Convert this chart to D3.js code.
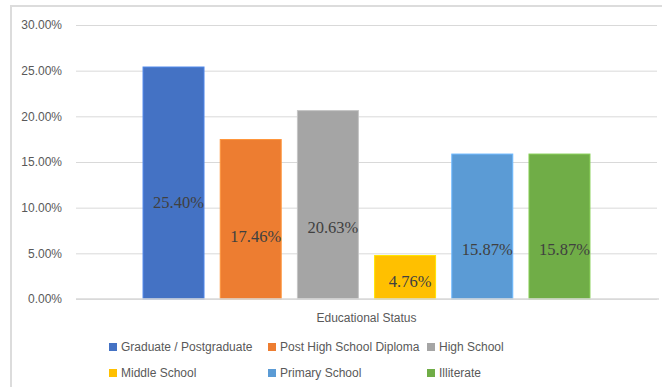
<!DOCTYPE html>
<html>
<head>
<meta charset="utf-8">
<script src="https://cdn.jsdelivr.net/npm/d3@7"></script>
<style>
  html, body { margin: 0; padding: 0; background: #fff; }
  svg { display: block; }
</style>
</head>
<body>
<svg id="chart" width="662" height="387"></svg>
<script>
// Share of respondents by educational status (percent)
const categories = [
  "Graduate / Postgraduate",
  "Post High School Diploma",
  "High School",
  "Middle School",
  "Primary School",
  "Illiterate"
];
const shares = [25.40, 17.46, 20.63, 4.76, 15.87, 15.87];
const colors = ["#4472C4", "#ED7D31", "#A5A5A5", "#FFC000", "#5B9BD5", "#70AD47"];
const yTicks = [0, 5, 10, 15, 20, 25, 30];
const groupName = "Educational Status";

const svg = d3.select("#chart");
const W = 662, H = 387;
const plot = { left: 76, right: 657, top: 25, bottom: 299 };

// Chart area frame (runs off the right and bottom edges)
svg.append("rect")
  .attr("x", 11).attr("y", 6)
  .attr("width", W).attr("height", H)
  .attr("fill", "#fff")
  .attr("stroke", "#dcdcdc")
  .attr("stroke-width", 2);

const y = d3.scaleLinear().domain([0, 30]).range([plot.bottom, plot.top]);

// One category holding six series, clustered in the middle of the plot
const x0 = d3.scaleBand().domain([groupName])
  .range([plot.left, plot.right]).paddingInner(0).paddingOuter(0.15);
const x1 = d3.scaleBand().domain(categories)
  .range([0, x0.bandwidth()]).paddingInner(0.21).paddingOuter(0);

// Gridlines and value axis
const yAxis = d3.axisLeft(y)
  .tickValues(yTicks)
  .tickSize(-(plot.right - plot.left))
  .tickPadding(14)
  .tickFormat(d => d.toFixed(2) + "%");

const gy = svg.append("g")
  .attr("transform", `translate(${plot.left},0)`)
  .call(yAxis);
gy.select(".domain").remove();
gy.selectAll(".tick line").attr("stroke", "#d9d9d9").attr("stroke-width", 1);
gy.selectAll(".tick text")
  .attr("fill", "#595959")
  .style("font-family", "'Liberation Sans', Arial, sans-serif")
  .style("font-size", "12px");

// Bars
const g = svg.append("g").attr("transform", `translate(${x0(groupName)},0)`);
g.selectAll("rect.bar")
  .data(categories)
  .join("rect")
  .attr("class", "bar")
  .attr("x", d => x1(d))
  .attr("y", (d, i) => y(shares[i]))
  .attr("width", x1.bandwidth())
  .attr("height", (d, i) => y(0) - y(shares[i]))
  .attr("fill", (d, i) => colors[i])
  .attr("stroke", (d, i) => d3.color(colors[i]).brighter(0.5))
  .attr("stroke-width", 1);

// Baseline
svg.append("line")
  .attr("x1", plot.left).attr("x2", plot.right + 2)
  .attr("y1", y(0)).attr("y2", y(0))
  .attr("stroke", "#d9d9d9").attr("stroke-width", 1.5);

// Value labels, set inside each bar (vertical placement in axis units)
const labelLevel = [10.6, 6.9, 7.9, 1.9, 5.4, 5.4];
g.selectAll("text.val")
  .data(categories)
  .join("text")
  .attr("class", "val")
  .attr("x", d => x1(d) + x1.bandwidth() / 2 + 5)
  .attr("y", (d, i) => y(labelLevel[i]))
  .attr("dy", "0.35em")
  .attr("text-anchor", "middle")
  .attr("fill", "#404040")
  .style("font-family", "'Liberation Serif', 'Times New Roman', serif")
  .style("font-size", "16.5px")
  .text((d, i) => shares[i].toFixed(2) + "%");

// Category axis title
svg.append("text")
  .attr("x", x0(groupName) + x0.bandwidth() / 2)
  .attr("y", 322)
  .attr("text-anchor", "middle")
  .attr("fill", "#595959")
  .style("font-family", "'Liberation Sans', Arial, sans-serif")
  .style("font-size", "12px")
  .text(groupName);

// Legend: three columns, two rows
const legCols = [109, 268, 427];
const legRows = [347, 373];
const leg = svg.append("g").selectAll("g")
  .data(categories)
  .join("g")
  .attr("transform", (d, i) => `translate(${legCols[i % 3]},${legRows[Math.floor(i / 3)]})`);
leg.append("rect")
  .attr("x", 0).attr("y", -4)
  .attr("width", 8).attr("height", 8)
  .attr("fill", (d, i) => colors[i]);
leg.append("text")
  .attr("x", 12).attr("y", 0)
  .attr("dy", "0.35em")
  .attr("fill", "#595959")
  .style("font-family", "'Liberation Sans', Arial, sans-serif")
  .style("font-size", "12px")
  .text(d => d);
</script>
</body>
</html>
